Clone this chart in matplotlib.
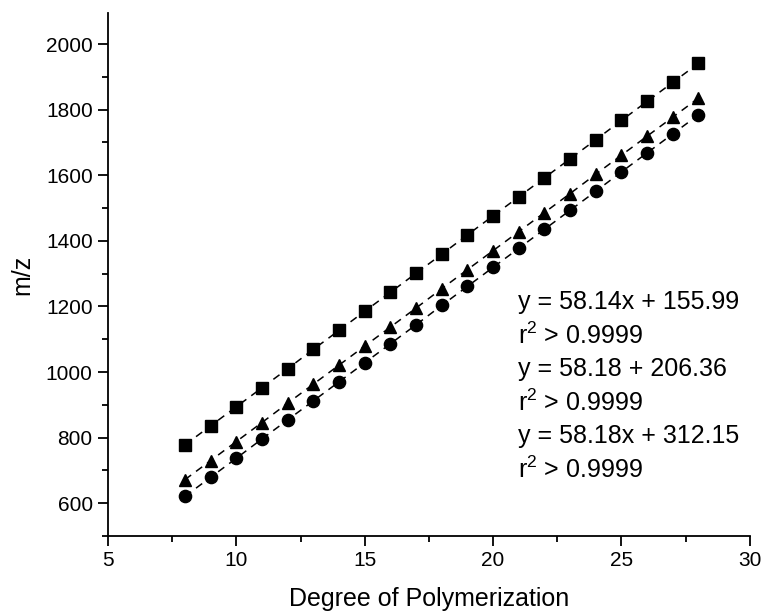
import matplotlib
matplotlib.use("Agg")
import matplotlib.pyplot as plt
from matplotlib.ticker import MultipleLocator

plt.rcParams['font.family'] = ['Liberation Sans', 'DejaVu Sans']
plt.rcParams['mathtext.fontset'] = 'custom'
plt.rcParams['mathtext.rm'] = 'Liberation Sans'

dp = [8, 9, 10, 11, 12, 13, 14, 15, 16, 17, 18, 19, 20, 21, 22, 23, 24, 25, 26, 27, 28]
squares = [778, 836, 894, 952, 1010, 1069, 1127, 1185, 1243, 1301, 1359,
           1418, 1476, 1534, 1592, 1650, 1708, 1767, 1825, 1883, 1941]
triangles = [672, 730, 788, 846, 905, 963, 1021, 1079, 1137, 1195, 1254,
             1312, 1370, 1428, 1486, 1544, 1603, 1661, 1719, 1777, 1835]
circles = [621, 679, 737, 796, 854, 912, 970, 1028, 1086, 1144, 1203,
           1261, 1319, 1377, 1435, 1493, 1551, 1610, 1668, 1726, 1784]
annotations = ["y = 58.14x + 155.99", "r$^\\mathrm{2}$ > 0.9999",
               "y = 58.18 + 206.36", "r$^\\mathrm{2}$ > 0.9999",
               "y = 58.18x + 312.15", "r$^\\mathrm{2}$ > 0.9999"]

fig = plt.figure(figsize=(7.69, 6.13), dpi=100)
ax = fig.add_axes([0.1404, 0.1256, 0.8346, 0.8534])

for ys, mk, ms in [(squares, 's', 8.2), (triangles, '^', 9.2), (circles, 'o', 8.8)]:
    ax.plot(dp, ys, color='black', linestyle=(0, (5, 4)), linewidth=1.1,
            marker=mk, markersize=ms, markeredgecolor='black', markerfacecolor='black')

ax.set_xlim(5, 30)
ax.set_ylim(500, 2095)
ax.xaxis.set_major_locator(MultipleLocator(5))
ax.xaxis.set_minor_locator(MultipleLocator(2.5))
ax.yaxis.set_major_locator(MultipleLocator(200))
ax.yaxis.set_minor_locator(MultipleLocator(100))
ax.set_yticks([600, 800, 1000, 1200, 1400, 1600, 1800, 2000])
ax.spines['top'].set_visible(False)
ax.spines['right'].set_visible(False)
for s in ['left', 'bottom']:
    ax.spines[s].set_linewidth(1.3)
ax.tick_params(which='major', direction='out', length=7, width=1.3, labelsize=15, pad=4)
ax.tick_params(which='minor', direction='out', length=4, width=1.3)

ax.set_xlabel("Degree of Polymerization", fontsize=18, labelpad=12)
ax.set_ylabel("m/z", fontsize=18, labelpad=8)

for i, t in enumerate(annotations):
    fig.text(518 / 769, 1 - (302 + i * 33.6) / 613, t, fontsize=18,
             ha='left', va='center')

fig.savefig("out.png", dpi=100)
